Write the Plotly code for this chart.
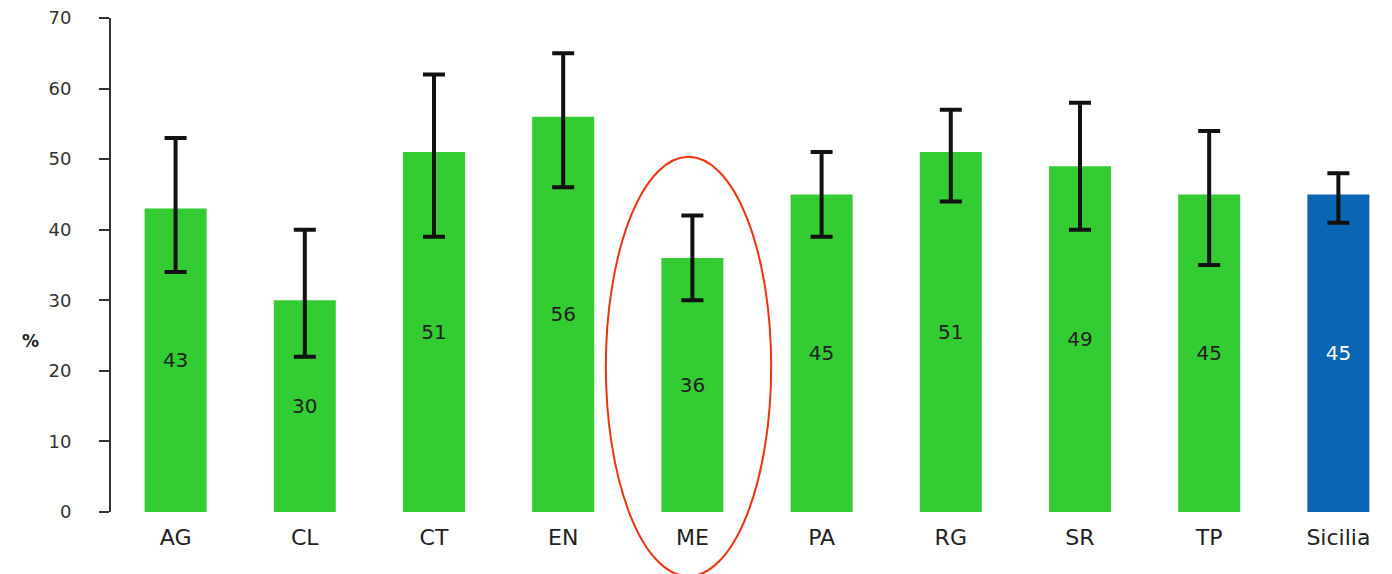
import plotly.graph_objects as go

categories = ["AG", "CL", "CT", "EN", "ME", "PA", "RG", "SR", "TP", "Sicilia"]
values = [43, 30, 51, 56, 36, 45, 51, 49, 45, 45]
upper = [53, 40, 62, 65, 42, 51, 57, 58, 54, 48]
lower = [34, 22, 39, 46, 30, 39, 44, 40, 35, 41]
y_ticks = [0, 10, 20, 30, 40, 50, 60, 70]

GREEN = "#33CC33"
BLUE = "#0A66B4"
colors = [GREEN] * 9 + [BLUE]
text_colors = ["#222222"] * 9 + ["#FFFFFF"]

err_plus = [u - v for u, v in zip(upper, values)]
err_minus = [v - l for v, l in zip(values, lower)]

fig = go.Figure()
fig.add_trace(go.Bar(
    x=categories,
    y=values,
    width=0.48,
    marker=dict(color=colors, line=dict(width=0)),
    text=[str(v) for v in values],
    textposition="inside",
    insidetextanchor="middle",
    textangle=0,
    textfont=dict(family="DejaVu Sans", size=20, color=text_colors),
    error_y=dict(type="data", symmetric=False, array=err_plus, arrayminus=err_minus,
                 color="#111111", thickness=4, width=11),
    hoverinfo="skip",
))

fig.add_annotation(
    xref="paper", yref="paper", x=-0.063, y=(504 - 333) / 494,
    text="<b>%</b>", showarrow=False, xanchor="center", yanchor="middle",
    font=dict(family="DejaVu Sans", size=17, color="#222222"),
)

fig.add_shape(
    type="circle", xref="x", yref="paper",
    x0=3.33, x1=4.61, y0=-0.13, y1=0.719,
    line=dict(color="#EE3311", width=2), fillcolor="rgba(0,0,0,0)",
)

fig.update_layout(
    width=1384, height=566,
    margin=dict(l=103, r=0, t=10, b=62),
    paper_bgcolor="white", plot_bgcolor="white",
    showlegend=False,
    bargap=0.5,
    xaxis=dict(
        range=[-0.5, 9.415], showline=False, showgrid=False, zeroline=False,
        ticks="", tickfont=dict(family="DejaVu Sans", size=22, color="#222222"),
        ticklabelstandoff=10,
    ),
    yaxis=dict(
        range=[0, 70], tickvals=y_ticks, showline=True, linecolor="#333333", linewidth=2,
        ticks="outside", ticklen=10, tickwidth=2, tickcolor="#333333",
        showgrid=False, zeroline=False, ticklabeloverflow="allow",
        tickfont=dict(family="DejaVu Sans", size=18, color="#333333"),
        ticklabelstandoff=24,
    ),
)

fig.write_html("out.html")
